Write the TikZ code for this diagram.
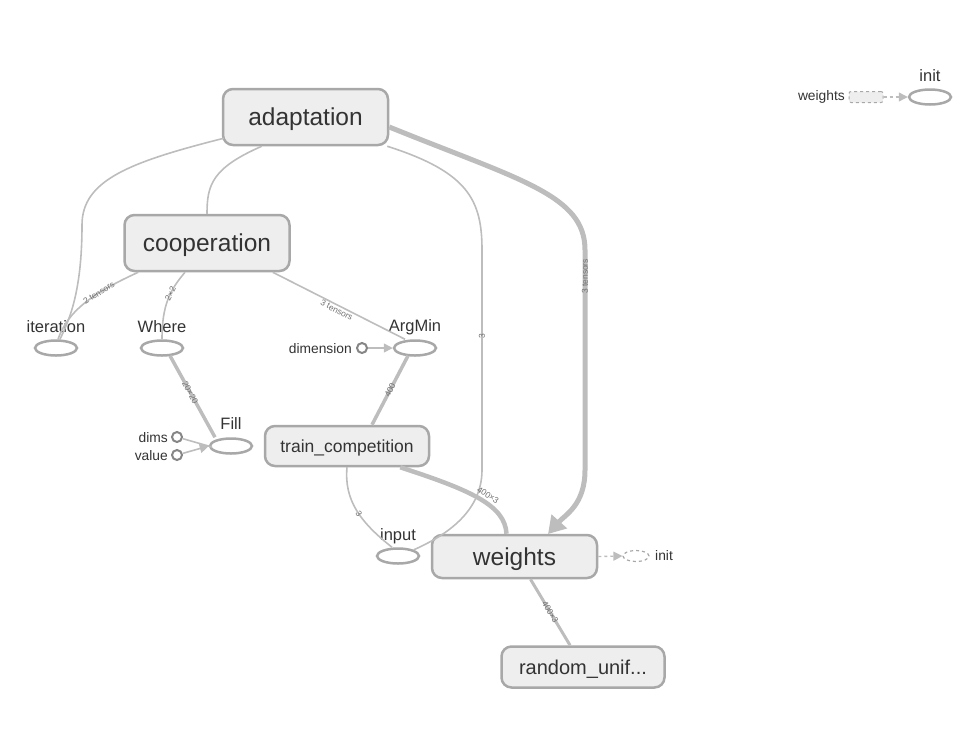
\documentclass[tikz,border=0pt]{standalone}
\usepackage{fontspec}
\setmainfont{Liberation Sans}
\usetikzlibrary{arrows.meta,calc,shapes.geometric}
\definecolor{edgec}{HTML}{BDBDBD}
\definecolor{borderc}{HTML}{A8A8A8}
\definecolor{fillc}{HTML}{EEEEEE}
\definecolor{txtc}{HTML}{333333}
\definecolor{lblc}{HTML}{707070}
\begin{document}
\begin{tikzpicture}[x=1pt,y=-1pt,
  opbox/.style={draw=borderc,fill=fillc,line width=2.5pt,rounded corners=10pt,text=txtc,inner sep=0pt,text depth=0pt},
  bigop/.style={opbox,minimum width=165pt,font=\fontsize{24.5}{26}\selectfont,text height=17.5pt},
  leaf/.style={draw=borderc,line width=2.5pt,ellipse,minimum width=42pt,minimum height=15pt,inner sep=0pt},
  leaflbl/.style={text=txtc,font=\fontsize{16.5}{18}\selectfont,inner sep=0pt},
  smalllbl/.style={text=txtc,font=\fontsize{13.8}{15}\selectfont,inner sep=0pt},
  const/.style={draw=borderc!80!black,line width=2pt,circle,minimum size=10pt,inner sep=0pt},
  e/.style={draw=edgec,line width=1.6pt},
  em/.style={draw=edgec,line width=3.5pt},
  eb/.style={draw=edgec,line width=5pt},
  el/.style={sloped,text=lblc,font=\fontsize{8.5}{9}\selectfont,inner sep=1pt},
  arr/.style={-{Triangle[width=9pt,length=9pt]}},
]
\useasboundingbox (0,0) rectangle (965,732);

% ops
\node[bigop,minimum height=56pt] (adaptation) at (305.5,117) {adaptation};
\node[bigop,minimum height=56pt] (cooperation) at (207,243) {cooperation};
\node[opbox,minimum width=164pt,minimum height=40pt,font=\fontsize{17.5}{19}\selectfont,text height=12.6pt] (train) at (347,446) {train\_competition};
\node[bigop,minimum height=43pt] (weights) at (514.5,556.5) {weights};
\node[opbox,minimum width=163pt,minimum height=41pt,font=\fontsize{20}{22}\selectfont,text height=14.4pt] (random) at (583,667) {random\_unif...};

% leaves
\node[leaf] (iteration) at (56,348) {};
\node[leaflbl] (iterationl) at (56,327) {iteration};
\node[leaf] (where) at (162,348) {};
\node[leaflbl] (wherel) at (162,327) {Where};
\node[leaf] (argmin) at (415,348) {};
\node[leaflbl] (argminl) at (415,327) {ArgMin};
\node[leaf] (fill) at (231,446) {};
\node[leaflbl] (filll) at (231,424) {Fill};
\node[leaf] (input) at (398,556) {};
\node[leaflbl] (inputl) at (398,536) {input};
\node[leaf] (init) at (930,97) {};
\node[leaflbl] (initl) at (930,76) {init};
\node[draw=borderc,dashed,line width=1.2pt,ellipse,minimum width=26pt,minimum height=11pt,inner sep=0pt] (init2) at (636,556) {};
\node[smalllbl,anchor=west] (init2l) at (655,556) {init};

% constants
\node[const] (dimension) at (362,348) {};
\node[smalllbl,anchor=east] (dimensionl) at (352,349) {dimension};
\node[const] (dims) at (177,437) {};
\node[smalllbl,anchor=east] (dimsl) at (168,438) {dims};
\node[const] (value) at (177,455) {};
\node[smalllbl,anchor=east] (valuel) at (168,456) {value};

% top-right legend
\node[draw=borderc,dashed,fill=fillc,line width=1pt,rounded corners=2pt,minimum width=34pt,minimum height=11pt,inner sep=0pt] (wref) at (866,97) {};
\node[smalllbl,anchor=east] (wrefl) at (845,97) {weights};
\draw[e,dashed,line width=1.4pt,arr] (wref.east) -- (init.west);

% edges
\draw[e] ([xshift=2pt,yshift=8pt]adaptation.south west) .. controls (130,162) and (82,180) .. (82,225) .. controls (82,295) and (68,322) .. ([xshift=4pt]iteration.north);
\draw[e] ([xshift=40pt]adaptation.south west) .. controls (212,168) and (207,185) .. (cooperation.north);
\draw[e] ([xshift=-2pt]adaptation.south east) .. controls (468,172) and (482,200) .. (482,250) -- node[el,pos=0.39,rotate=180] (l3a) {3} (482,470) .. controls (482,515) and (440,538) .. (input.north east);
\draw[eb,-{Triangle[width=20pt,length=17pt]}] ([yshift=-10pt]adaptation.east) .. controls (520,180) and (585,195) .. (585,250) -- node[el,pos=0.12,rotate=180] (l3t) {3 tensors} (585,470) .. controls (585,505) and (565,515) .. (548,534);

\draw[e] ([xshift=15pt]cooperation.south west) .. controls (95,292) and (68,310) .. ([xshift=2pt]iteration.north)
  node[el,pos=0.35] (l2t) {2 tensors};
\draw[e] ([xshift=-22pt]cooperation.south) .. controls (170,290) and (162,305) .. (where.north)
  node[el,pos=0.4] (l22) {2×2};
\draw[e] ([xshift=-18pt]cooperation.south east) -- ([xshift=-10pt]argmin.north)
  node[el,pos=0.5,below=0pt] (l3b) {3 tensors};
\draw[e,arr] (dimension) -- (argmin.west);
\draw[em] ([xshift=-7pt,yshift=1pt]argmin.south) -- ([xshift=25pt]train.north)
  node[el,pos=0.5] (l400) {400};
\draw[em] ([xshift=8pt,yshift=1pt]where.south) -- ([xshift=-16pt]fill.north)
  node[el,pos=0.45] (l2020) {20×20};
\draw[e] (dims) -- (212,447);
\draw[e,arr] (value) -- (fill.west);
\draw[draw=edgec,line width=4.5pt] ([xshift=-30pt]train.south east) .. controls (470,490) and (505,505) .. ([xshift=-8pt]weights.north)
  node[el,pos=0.55,above=1pt] (l4003) {400×3};
\draw[e] (train.south) .. controls (344,500) and (360,522) .. ([xshift=-6pt]input.north)
  node[el,pos=0.55] (l3c) {3};
\draw[draw=edgec,line width=3pt] ([xshift=16pt]weights.south) -- ([xshift=-13pt]random.north)
  node[el,pos=0.5] (l4003b) {400×3};
\draw[e,dashed,line width=1.4pt,arr] (weights.east) -- (init2.west);
\end{tikzpicture}
\end{document}
